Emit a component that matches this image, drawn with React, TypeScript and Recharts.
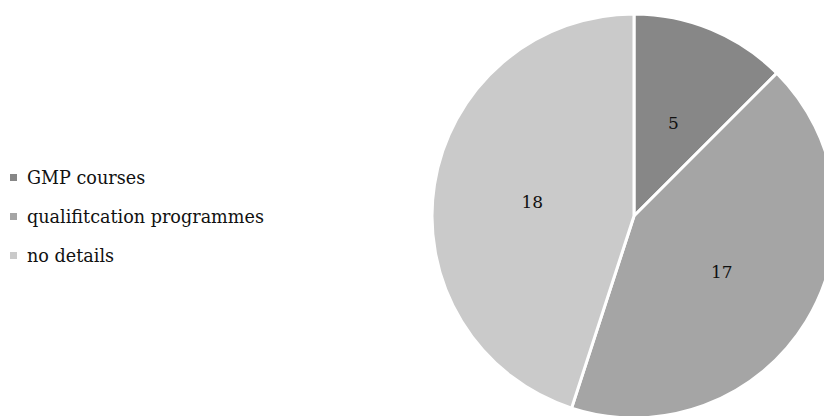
import { Cell, Pie, PieChart } from "recharts";

const categories = ["GMP courses", "qualifitcation programmes", "no details"];
const counts = [5, 17, 18];
const colors = ["#878787", "#a5a5a5", "#cacaca"];

const data = categories.map((name, i) => ({ name, value: counts[i] }));

const FONT = "'DejaVu Serif', 'Liberation Serif', serif";
const RADIAN = Math.PI / 180;

const renderLabel = (props: any) => {
  const { cx, cy, midAngle, outerRadius, value } = props;
  const r = outerRadius * 0.51;
  const x = cx + r * Math.cos(-midAngle * RADIAN);
  const y = cy + r * Math.sin(-midAngle * RADIAN) + 2;
  return (
    <text
      x={x}
      y={y}
      fill="#111"
      fontSize={17}
      fontFamily={FONT}
      textAnchor="middle"
      dominantBaseline="central"
    >
      {value}
    </text>
  );
};

// legend drawn as plain html so it doesn't shift the pie
const LegendList = () => (
  <div
    style={{
      position: "absolute",
      left: 0,
      top: 158,
      fontFamily: FONT,
      fontSize: 17.6,
      color: "#111",
    }}
  >
    {data.map((d, i) => (
      <div
        key={d.name}
        style={{ display: "flex", alignItems: "center", height: 39 }}
      >
        <span
          style={{
            display: "inline-block",
            width: 7,
            height: 7,
            background: colors[i],
            marginLeft: 10,
            marginRight: 10,
          }}
        />
        <span>{d.name}</span>
      </div>
    ))}
  </div>
);

const App = () => {
  return (
    <div
      style={{
        position: "absolute",
        left: 0,
        top: 0,
        width: 824,
        height: 416,
        background: "#fff",
      }}
    >
      <PieChart width={824} height={416} margin={{ top: 0, right: 0, bottom: 0, left: 0 }}>
        <Pie
          data={data}
          dataKey="value"
          nameKey="name"
          cx={634}
          cy={216}
          outerRadius={202}
          startAngle={90}
          endAngle={-270}
          stroke="#fff"
          strokeWidth={3}
          label={renderLabel}
          labelLine={false}
          isAnimationActive={false}
        >
          {data.map((d, i) => (
            <Cell key={d.name} fill={colors[i]} />
          ))}
        </Pie>
      </PieChart>
      <LegendList />
    </div>
  );
};

export default App;
